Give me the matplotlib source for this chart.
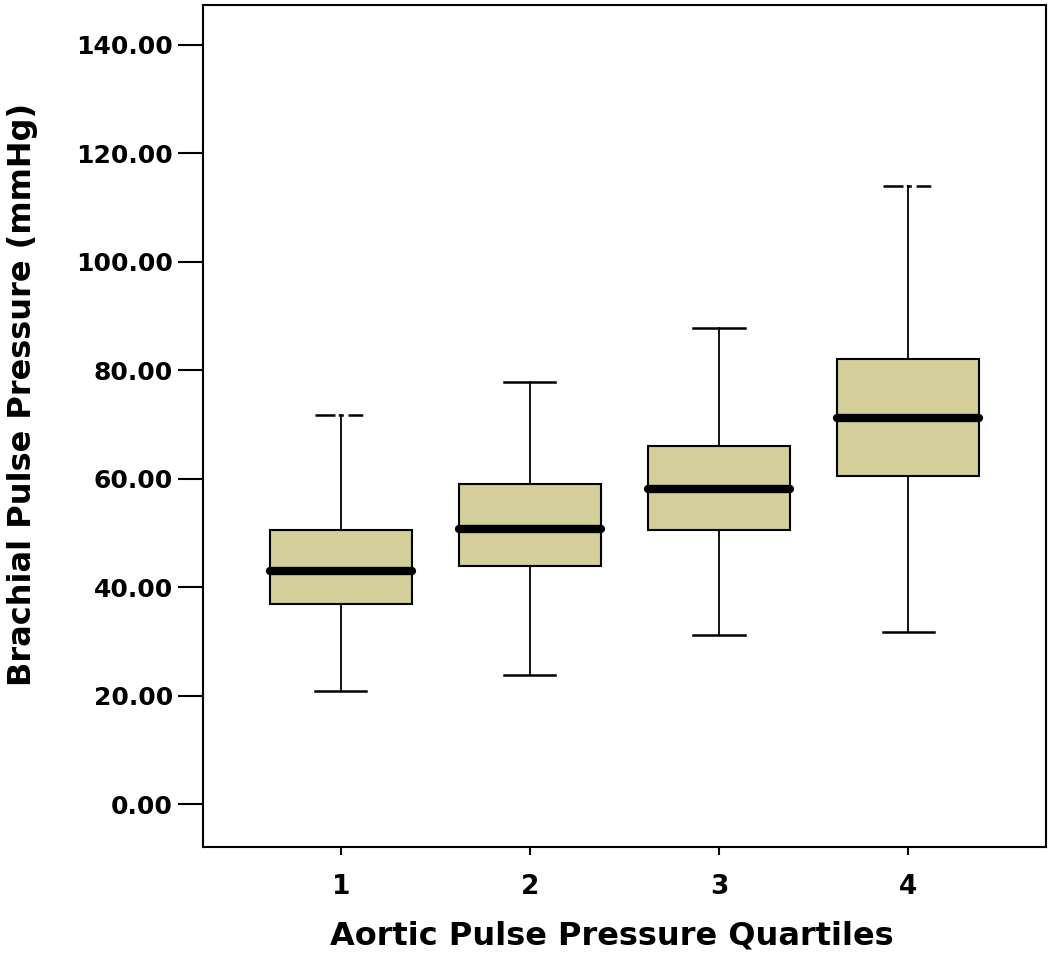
import matplotlib
matplotlib.use("Agg")
from matplotlib import pyplot as plt

plt.rcParams["font.family"] = "DejaVu Sans"
plt.rcParams["font.weight"] = "bold"
plt.rcParams["lines.scale_dashes"] = False

quartiles = [1, 2, 3, 4]
whisker_low = [20.8, 23.8, 31.1, 31.7]
box_low = [36.9, 43.9, 50.6, 60.4]
medians = [42.9, 50.7, 58.0, 71.2]
box_high = [50.6, 59.0, 66.0, 82.0]
whisker_high = [71.8, 77.8, 87.8, 114.0]
ytick_vals = [0, 20, 40, 60, 80, 100, 120, 140]

stats = []
for i in range(len(quartiles)):
    stats.append({"label": str(quartiles[i]), "whislo": whisker_low[i], "q1": box_low[i],
                  "med": medians[i], "q3": box_high[i], "whishi": whisker_high[i], "fliers": []})

fig = plt.figure(figsize=(10.5, 9.59), dpi=100)
ax = fig.add_axes([0.1933, 0.1168, 0.8029, 0.878])

bp = ax.bxp(stats, positions=quartiles, widths=0.75, capwidths=0.27, patch_artist=True,
            showfliers=False,
            boxprops={"facecolor": "#D4CF9A", "edgecolor": "black", "linewidth": 1.5},
            whiskerprops={"color": "black", "linewidth": 1.3},
            capprops={"color": "black", "linewidth": 1.8},
            medianprops={"color": "black", "linewidth": 6, "solid_capstyle": "round"})

# the top caps of quartiles 1 and 4 are broken up in the original (dash lengths in points)
for k in [1, 7]:
    bp["caps"][k].set_linestyle((0, (14.4, 2.4, 3.6, 3.4, 10.6, 4)))

ax.set_xlim(0.27, 4.73)
ax.set_ylim(-7.9, 147.3)
ax.set_yticks(ytick_vals)
ax.set_yticklabels(["%.2f" % v for v in ytick_vals])
ax.set_xticks(quartiles)
ax.set_xticklabels([str(q) for q in quartiles])

ax.tick_params(axis="y", length=18, width=1.5, pad=3.5, labelsize=18)
ax.tick_params(axis="x", length=5.5, width=1.5, pad=14, labelsize=19)
for s in ax.spines.values():
    s.set_linewidth(1.5)

ax.set_xlabel("Aortic Pulse Pressure Quartiles", fontsize=23, fontweight="bold")
ax.set_ylabel("Brachial Pulse Pressure (mmHg)", fontsize=23, fontweight="bold")
ax.xaxis.set_label_coords(0.4846, -0.087)
ax.yaxis.set_label_coords(-0.196, 0.537)

fig.savefig("out.png", dpi=100)
